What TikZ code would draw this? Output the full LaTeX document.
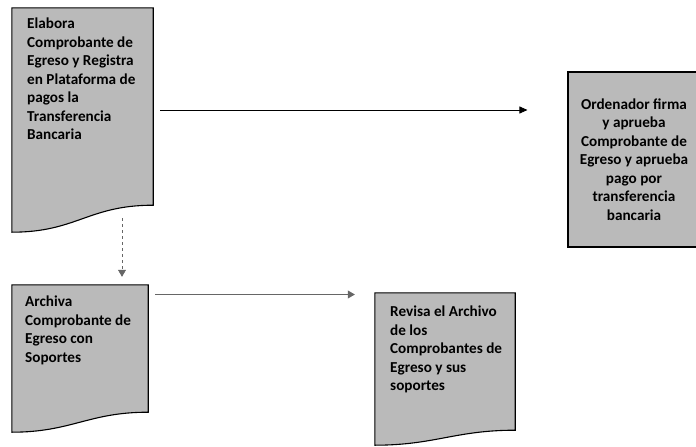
\documentclass[tikz,border=0pt]{standalone}
\usepackage{fontspec}
\setmainfont{Carlito}
\usetikzlibrary{arrows.meta}
\tikzset{
    marco/.style={draw=none,inner sep=0pt},           % hoja sin borde, se dibuja aparte
    hoja/.style={draw=black,line width=1.1pt,fill=black!27},
    texto/.style={inner sep=0pt,align=left,font=\fontsize{15.2}{18.5}\selectfont\bfseries},
    flecha/.style={line width=0.9pt,-{Triangle[length=8pt,width=7pt]}},
    flechagris/.style={line width=0.7pt,black!60,-{Triangle[length=7pt,width=8pt]}}
}

\begin{document}
\begin{tikzpicture}[x=1pt,y=-1pt]
    \useasboundingbox (0,0) rectangle (696,447);

    % marcos de las hojas
    \node[marco,minimum width=141pt,minimum height=224pt] (elabora) at (82.5,120) {};
    \node[marco,minimum width=136pt,minimum height=147pt] (archiva) at (80,358.5) {};
    \node[marco,minimum width=140pt,minimum height=152pt] (revisa) at (445,369) {};

    \draw[hoja] (elabora.north west) -- (elabora.north east) -- ([yshift=27pt]elabora.south east)
        .. controls +(-65pt,0pt) and +(65pt,0pt) .. (elabora.south west) -- cycle;
    \draw[hoja] (archiva.north west) -- (archiva.north east) -- ([yshift=20pt]archiva.south east)
        .. controls +(-60pt,0pt) and +(60pt,0pt) .. (archiva.south west) -- cycle;
    \draw[hoja] (revisa.north west) -- (revisa.north east) -- ([yshift=15pt]revisa.south east)
        .. controls +(-60pt,0pt) and +(60pt,0pt) .. (revisa.south west) -- cycle;

    % caja del ordenador
    \node[hoja,texto,align=center,minimum width=132pt,minimum height=175pt] (ordenador) at (634,159.5)
        {Ordenador firma\\y aprueba\\Comprobante de\\Egreso y aprueba\\pago por\\transferencia\\bancaria};

    % textos
    \node[texto,anchor=north west] (telabora) at (27,18)
        {Elabora\\Comprobante de\\Egreso y Registra\\en Plataforma de\\pagos la\\Transferencia\\Bancaria};
    \node[texto,anchor=north west] (tarchiva) at (25,296)
        {Archiva\\Comprobante de\\Egreso con\\Soportes};
    \node[texto,anchor=north west] (trevisa) at (390,306)
        {Revisa el Archivo\\de los\\Comprobantes de\\Egreso y sus\\soportes};

    % flechas
    \draw[flecha,shorten <=7pt,shorten >=40pt] ([yshift=10pt]elabora.east) -- ([yshift=10pt]elabora.east -| ordenador.west);
    \draw[flechagris,shorten <=7pt,shorten >=20pt] ([yshift=64pt]archiva.east) -- ([yshift=64pt]archiva.east -| revisa.west);
    \coordinate (bajada) at (122,218);
    \draw[flechagris,dashed,shorten >=8pt] (bajada) -- (bajada |- archiva.north);
\end{tikzpicture}
\end{document}
